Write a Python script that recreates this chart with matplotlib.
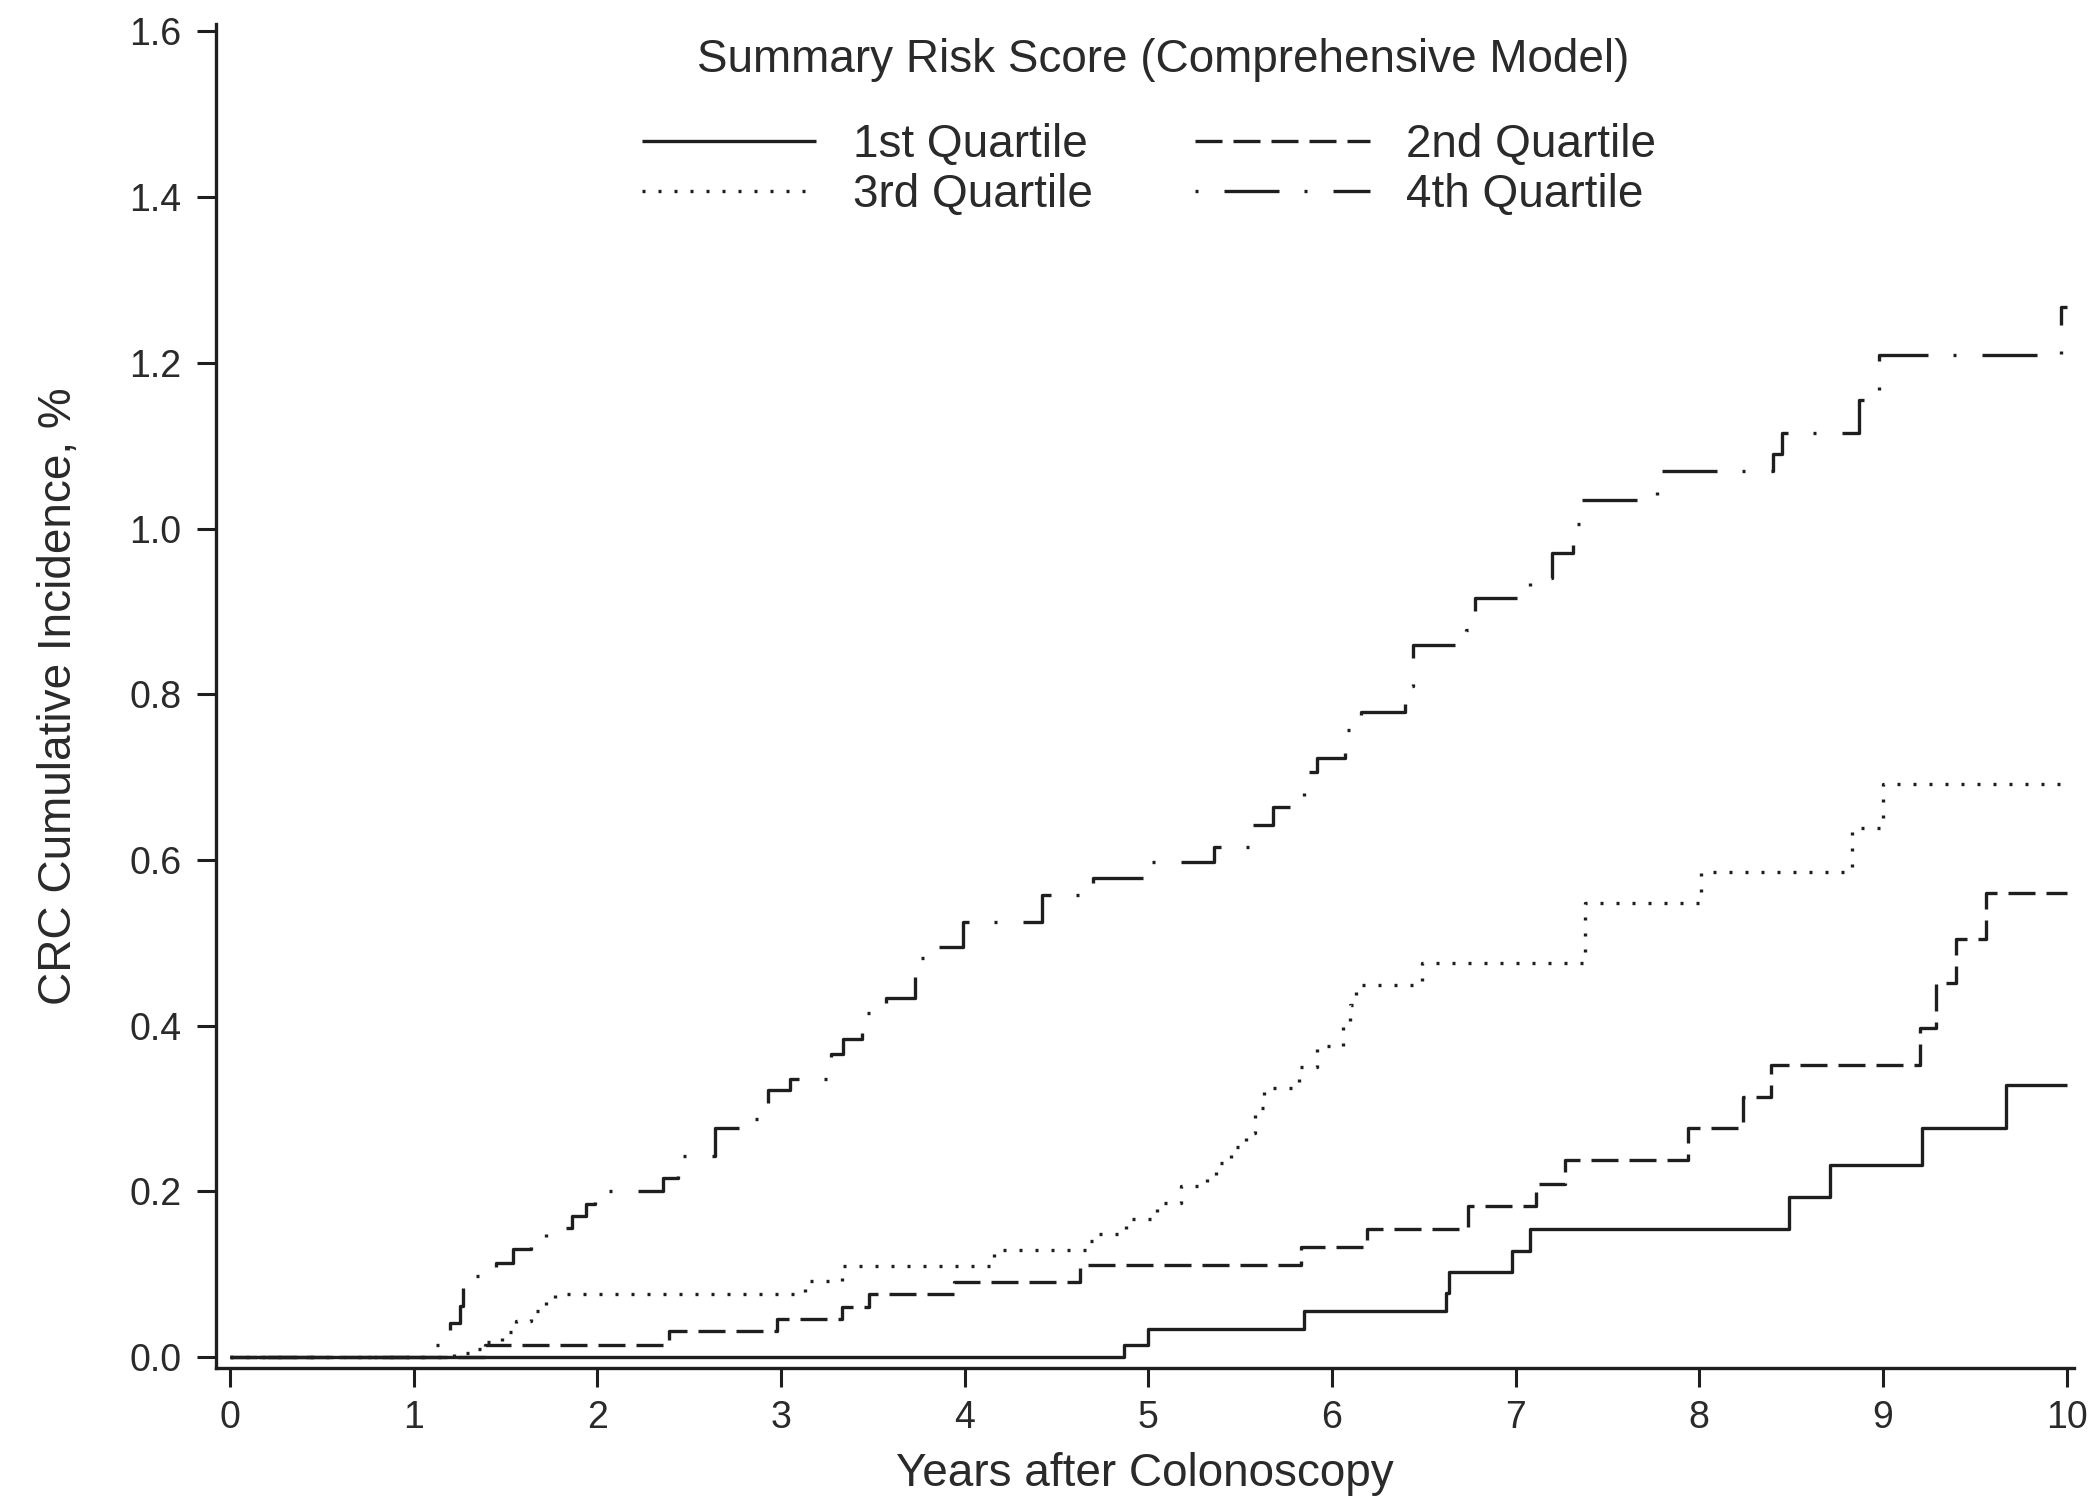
import matplotlib
matplotlib.use("Agg")
import matplotlib.pyplot as plt

plt.rcParams['font.family'] = ['Liberation Sans', 'DejaVu Sans']

# ---------------- data ----------------
legend_title = "Summary Risk Score (Comprehensive Model)"
series_labels = ["1st Quartile", "2nd Quartile", "3rd Quartile", "4th Quartile"]

q1_x = [0, 4.87, 5.00, 5.85, 6.62, 6.64, 6.98, 7.08, 8.49, 8.71, 9.21, 9.67, 10.0]
q1_y = [0, 0.015, 0.034, 0.056, 0.077, 0.102, 0.128, 0.155, 0.193, 0.232, 0.276, 0.328, 0.328]

q2_x = [0, 1.39, 2.39, 2.98, 3.33, 3.48, 3.94, 4.63, 5.83, 6.19, 6.74, 7.11, 7.27,
        7.94, 8.24, 8.39, 9.20, 9.29, 9.40, 9.56, 10.0]
q2_y = [0, 0.015, 0.031, 0.046, 0.060, 0.076, 0.091, 0.111, 0.133, 0.155, 0.182, 0.209, 0.238,
        0.276, 0.314, 0.352, 0.397, 0.451, 0.505, 0.560, 0.560]

q3_x = [0, 1.22, 1.30, 1.40, 1.48, 1.56, 1.64, 1.72, 1.77, 3.13, 3.33, 4.16, 4.68, 4.73,
        4.88, 5.05, 5.18, 5.32, 5.37, 5.45, 5.53, 5.58, 5.63, 5.82, 5.92, 6.06, 6.10, 6.13,
        6.49, 7.38, 8.01, 8.83, 9.00, 10.0]
q3_y = [0, 0.005, 0.010, 0.018, 0.030, 0.043, 0.056, 0.067, 0.076, 0.092, 0.110, 0.129, 0.140, 0.148,
        0.166, 0.186, 0.206, 0.218, 0.234, 0.254, 0.270, 0.300, 0.325, 0.350, 0.375, 0.399, 0.425, 0.449,
        0.475, 0.548, 0.585, 0.639, 0.692, 0.692]

q4_x = [0, 1.09, 1.16, 1.20, 1.25, 1.27, 1.30, 1.45, 1.54, 1.64, 1.72, 1.86, 1.94, 1.99,
        2.36, 2.44, 2.64, 2.78, 2.93, 3.05, 3.27, 3.34, 3.44, 3.57, 3.73, 3.82, 3.99, 4.42,
        4.70, 5.01, 5.36, 5.55, 5.68, 5.85, 5.92, 6.07, 6.16, 6.40, 6.42, 6.44, 6.73, 6.78,
        7.08, 7.20, 7.31, 7.36, 7.77, 8.40, 8.45, 8.87, 8.98, 9.97, 10.0]
q4_y = [0, 0.015, 0.027, 0.041, 0.061, 0.085, 0.098, 0.113, 0.130, 0.144, 0.156, 0.170, 0.185, 0.200,
        0.216, 0.243, 0.276, 0.287, 0.322, 0.336, 0.366, 0.384, 0.415, 0.433, 0.482, 0.495, 0.525, 0.558,
        0.578, 0.597, 0.616, 0.642, 0.664, 0.706, 0.723, 0.757, 0.779, 0.790, 0.810, 0.859, 0.878, 0.916,
        0.940, 0.970, 1.006, 1.035, 1.069, 1.090, 1.115, 1.155, 1.210, 1.268, 1.268]

x_ticks = [0, 1, 2, 3, 4, 5, 6, 7, 8, 9, 10]
y_ticks = [0.0, 0.2, 0.4, 0.6, 0.8, 1.0, 1.2, 1.4, 1.6]
x_label = "Years after Colonoscopy"
y_label = "CRC Cumulative Incidence, %"

# ---------------- styling ----------------
INK = "#1e1e1e"
TXT = "#2a2a2a"
LW = 2.4
styles = [
    "-",
    (0, (8.1, 3.3)),
    (0, (0.9, 3.9)),
    (0, (0.9, 7.8, 16.5, 7.5)),
]

fig = plt.figure(figsize=(20.89, 15.01), dpi=100)
ax = fig.add_axes([0.1034, 0.0886, 0.8894, 0.8954])

series = [(q1_x, q1_y), (q2_x, q2_y), (q3_x, q3_y), (q4_x, q4_y)]
handles = []
for (xs, ys), lab, ls in zip(series, series_labels, styles):
    h, = ax.step(xs, ys, where="post", color=INK, lw=LW, linestyle=ls, label=lab,
                 solid_capstyle="butt", dash_capstyle="butt")
    handles.append(h)

ax.set_xlim(-0.076, 10.04)
ax.set_ylim(-0.0133, 1.609)
ax.set_xticks(x_ticks)
ax.set_xticklabels([str(t) for t in x_ticks])
ax.set_yticks(y_ticks)
ax.set_yticklabels([f"{t:.1f}" for t in y_ticks])

for s in ["top", "right"]:
    ax.spines[s].set_visible(False)
for s in ["left", "bottom"]:
    ax.spines[s].set_linewidth(2.4)
    ax.spines[s].set_color(INK)

ax.tick_params(axis="both", direction="out", length=13.7, width=2.2, color=INK,
               labelsize=27, labelcolor=TXT)
ax.tick_params(axis="x", pad=9.5)
ax.tick_params(axis="y", pad=11)

ax.set_xlabel(x_label, fontsize=33, color=TXT, labelpad=11)
ax.set_ylabel(y_label, fontsize=33, color=TXT, labelpad=35)

fig.text(1163 / 2089, 1 - 72 / 1501, legend_title, ha="center", va="baseline",
         fontsize=33, color=TXT)

order = [0, 2, 1, 3]
leg = ax.legend([handles[i] for i in order], [series_labels[i] for i in order],
                ncol=2, loc="upper left", bbox_to_anchor=(642 / 2089, 1 - 123 / 1501),
                bbox_transform=fig.transFigure, frameon=False, borderpad=0,
                borderaxespad=0, handlelength=3.8, handletextpad=0.8,
                columnspacing=2.24, labelspacing=0.13, fontsize=33)
for t in leg.get_texts():
    t.set_color(TXT)

fig.savefig("out.png", dpi=100)
